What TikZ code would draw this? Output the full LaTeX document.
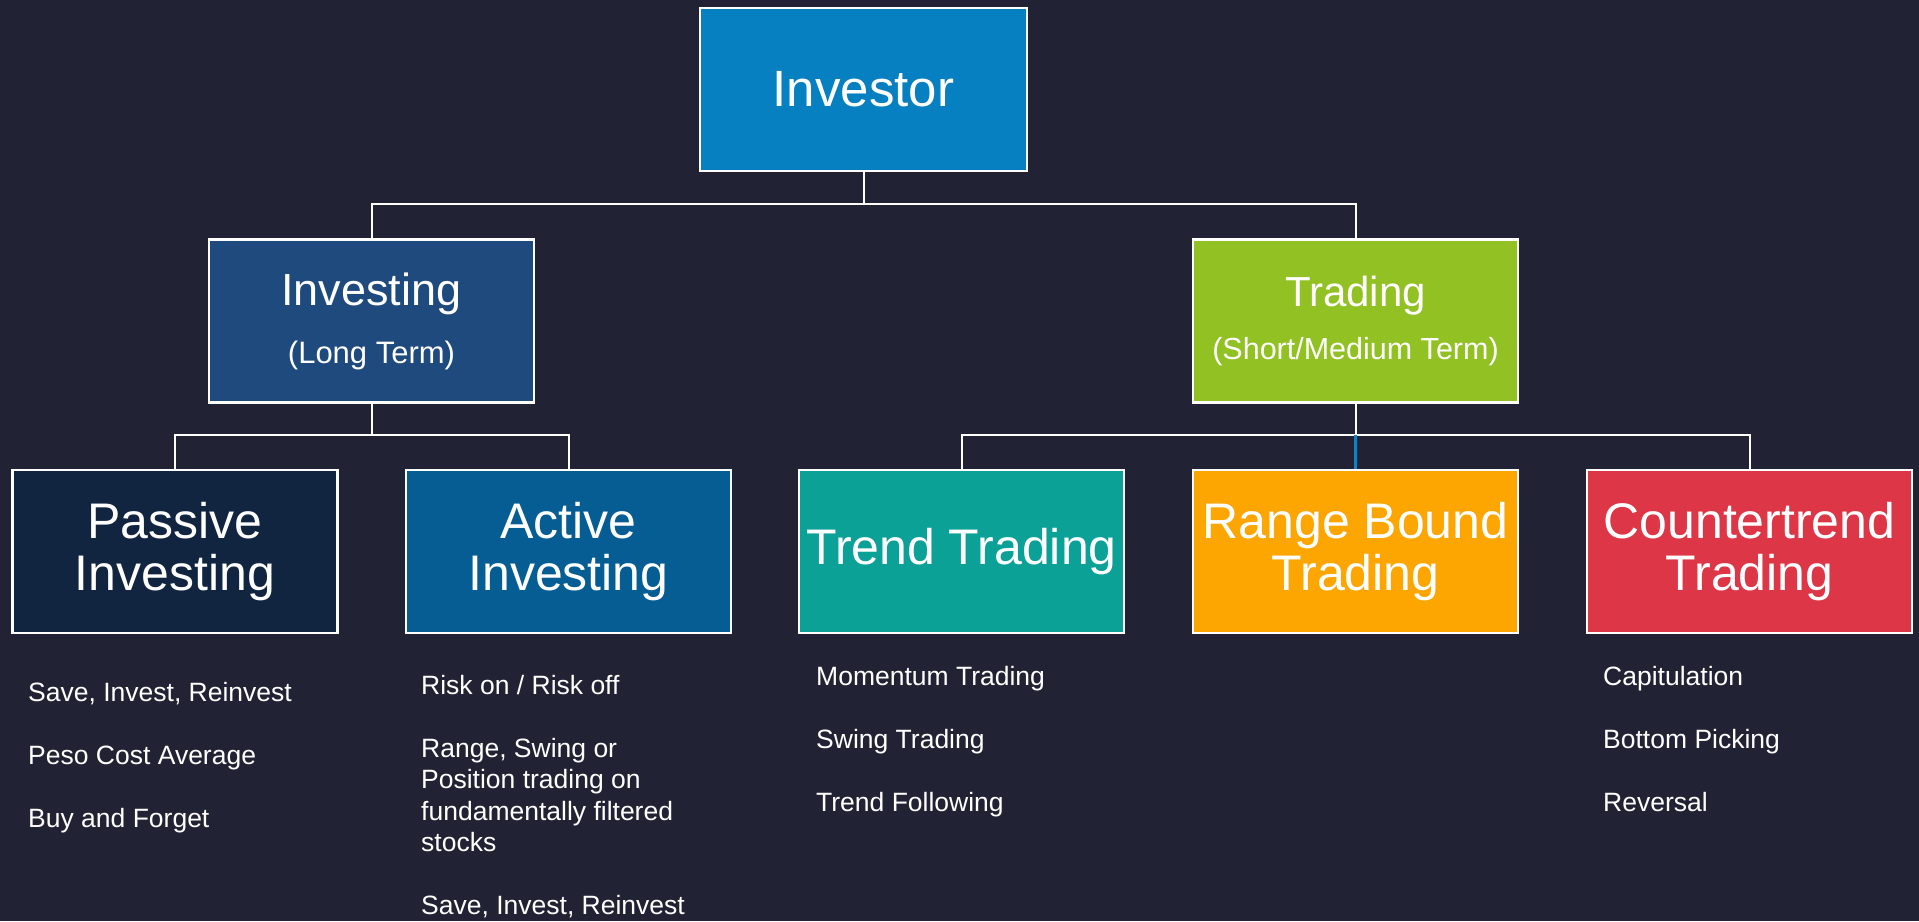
\documentclass[tikz,border=0pt]{standalone}
\usepackage{fontspec}
\setmainfont{Liberation Sans}

\definecolor{bgnavy}{HTML}{212234}
\definecolor{investorblue}{HTML}{0780C2}
\definecolor{investingblue}{HTML}{1F4A7E}
\definecolor{tradinggreen}{HTML}{91C122}
\definecolor{passivenavy}{HTML}{112541}
\definecolor{activeblue}{HTML}{055D93}
\definecolor{trendteal}{HTML}{0BA197}
\definecolor{rangeorange}{HTML}{FDA500}
\definecolor{counterred}{HTML}{DD3646}
\definecolor{linkblue}{HTML}{0A84C8}

\begin{document}
\begin{tikzpicture}[x=1pt,y=-1pt,
    box/.style={draw=white,line width=2.5pt,minimum width=325pt,minimum height=163pt,
        inner sep=0pt,text=white,align=center},
    link/.style={draw=white,line width=2pt},
    items/.style={anchor=north west,inner sep=0pt,text=white,align=left,
        font=\fontsize{26.5}{31.5}\selectfont}]

    % Background:
    \fill [bgnavy] (0,0) rectangle (1919,921);
    \useasboundingbox (0,0) rectangle (1919,921);

    % Boxes:
    \node [box,fill=investorblue,minimum width=327pt,font=\fontsize{51}{60}\selectfont] (investor) at (863.5,89.5) {Investor};
    \node [box,fill=investingblue,font=\fontsize{45}{58}\selectfont] (investing) at (371.5,321) {\raisebox{-4pt}{Investing}\\{\fontsize{31}{36}\selectfont \raisebox{-4pt}{(Long Term)}}};
    \node [box,fill=tradinggreen,font=\fontsize{42}{53}\selectfont] (trading) at (1355.5,321) {\raisebox{-2pt}{Trading}\\{\fontsize{30.5}{36}\selectfont \raisebox{-2pt}{(Short/Medium Term)}}};

    \begin{scope}[font=\fontsize{50}{52}\selectfont]
    \node [box,fill=passivenavy] (passive) at (175,551.5) {Passive\\Investing};
    \node [box,fill=activeblue] (active) at (568.5,551.5) {Active\\Investing};
    \node [box,fill=trendteal] (trend) at (961.5,551.5) {Trend Trading};
    \node [box,fill=rangeorange] (range) at (1355.5,551.5) {Range Bound\\Trading};
    \node [box,fill=counterred] (counter) at (1749.5,551.5) {Countertrend\\Trading};
    \end{scope}

    % Connectors:
    \draw [link] (investor.south) -- ++(0,32) coordinate (busA);
    \draw [link] (busA) -| (investing.north);
    \draw [link] (busA) -| (trading.north);

    \draw [link] (investing.south) -- ++(0,31.5) coordinate (busB);
    \draw [link] (busB) -| (passive.north);
    \draw [link] (busB) -| (active.north);

    \draw [link] (trading.south) -- ++(0,31.5) coordinate (busC);
    \draw [link] (busC) -| (trend.north);
    \draw [link] (busC) -| (counter.north);
    \draw [link,draw=linkblue,line width=2.5pt] (busC) -- (range.north);

    % Lists under the boxes:
    \node [items] (passivelist) at (28,682) {Save, Invest, Reinvest\\[31.5pt]Peso Cost Average\\[31.5pt]Buy and Forget};
    \node [items] (activelist) at (421,675) {Risk on / Risk off\\[31.5pt]Range, Swing or\\Position trading on\\fundamentally filtered\\stocks\\[31.5pt]Save, Invest, Reinvest};
    \node [items] (trendlist) at (816,666) {Momentum Trading\\[31.5pt]Swing Trading\\[31.5pt]Trend Following};
    \node [items] (counterlist) at (1603,666) {Capitulation\\[31.5pt]Bottom Picking\\[31.5pt]Reversal};
\end{tikzpicture}
\end{document}
